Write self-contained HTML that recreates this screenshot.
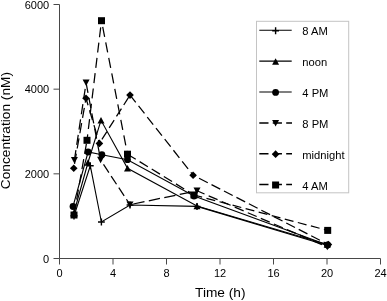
<!DOCTYPE html>
<html><head><meta charset="utf-8"><title>Concentration vs Time</title>
<style>
html,body{margin:0;padding:0;background:#fff;}
body{width:387px;height:301px;overflow:hidden;}
svg{display:block;}
text{font-family:"Liberation Sans",Arial,sans-serif;fill:#000;}
.t{font-size:11px;}
.l{font-size:11.2px;}
.a{font-size:13.7px;}
</style></head><body>
<svg width="387" height="301" viewBox="0 0 387 301">
<rect width="387" height="301" fill="#fff"/>

<g stroke="#484848" stroke-width="1" fill="none">
<path d="M59.5 4.5V258.5H380.5"/>
<path d="M53.5 258.5H59.5"/>
<path d="M53.5 173.83H59.5"/>
<path d="M53.5 89.17H59.5"/>
<path d="M53.5 4.5H59.5"/>
<path d="M59.5 258.5V264.5"/>
<path d="M113 258.5V264.5"/>
<path d="M166.5 258.5V264.5"/>
<path d="M220 258.5V264.5"/>
<path d="M273.5 258.5V264.5"/>
<path d="M327 258.5V264.5"/>
<path d="M380.5 258.5V264.5"/>
</g>
<text class="t" x="49.2" y="262.6" text-anchor="end">0</text>
<text class="t" x="49.2" y="177.93" text-anchor="end">2000</text>
<text class="t" x="49.2" y="93.27" text-anchor="end">4000</text>
<text class="t" x="49.2" y="8.6" text-anchor="end">6000</text>
<text class="t" x="59.5" y="276.7" text-anchor="middle">0</text>
<text class="t" x="113" y="276.7" text-anchor="middle">4</text>
<text class="t" x="166.5" y="276.7" text-anchor="middle">8</text>
<text class="t" x="220" y="276.7" text-anchor="middle">12</text>
<text class="t" x="273.5" y="276.7" text-anchor="middle">16</text>
<text class="t" x="327" y="276.7" text-anchor="middle">20</text>
<text class="t" x="380.5" y="276.7" text-anchor="middle">24</text>
<text class="a" x="220.3" y="296.6" text-anchor="middle">Time (h)</text>
<text class="a" transform="translate(10.4 130.6) rotate(-90)" text-anchor="middle">Concentration (nM)</text>
<path d="M74 216L90.3 165.8L101.4 222L130 205L197 206.4L327.5 245.5" stroke="#000" stroke-width="1.1" fill="none"/>
<path d="M74 212.5L88 162.5L101 120.3L127.5 168.3L197 206L327.2 244.5" stroke="#000" stroke-width="1.1" fill="none"/>
<path d="M73 206.5L88.1 152L101.9 154.7L127.5 159.7L194 196L327.5 245" stroke="#000" stroke-width="1.1" fill="none"/>
<path d="M74.4 160.2L86.1 82.8" stroke="#000" stroke-width="1.25" fill="none" stroke-dasharray="10.2 5.3" stroke-dashoffset="0"/>
<path d="M86.1 82.8L100.6 160" stroke="#000" stroke-width="1.25" fill="none" stroke-dasharray="10.2 5.3" stroke-dashoffset="0"/>
<path d="M100.6 160L130 204.7" stroke="#000" stroke-width="1.25" fill="none" stroke-dasharray="9.8 4.1" stroke-dashoffset="8.6"/>
<path d="M130 204.7L197 190.8" stroke="#000" stroke-width="1.25" fill="none" stroke-dasharray="11.4 4.4" stroke-dashoffset="12.4"/>
<path d="M197 190.8L327.3 247" stroke="#000" stroke-width="1.25" fill="none" stroke-dasharray="9.7 4.5" stroke-dashoffset="1.5"/>
<path d="M73.75 168.2L86 98.3" stroke="#000" stroke-width="1.25" fill="none" stroke-dasharray="10.2 5.3" stroke-dashoffset="11"/>
<path d="M86 98.3L99.4 143.4" stroke="#000" stroke-width="1.25" fill="none" stroke-dasharray="10.2 5.3" stroke-dashoffset="3"/>
<path d="M99.4 143.4L130 95.1" stroke="#000" stroke-width="1.25" fill="none" stroke-dasharray="9.3 4.3" stroke-dashoffset="8.9"/>
<path d="M130 95.1L193.1 175.2" stroke="#000" stroke-width="1.25" fill="none" stroke-dasharray="9.6 4.5" stroke-dashoffset="0.3"/>
<path d="M193.1 175.2L328.4 244.6" stroke="#000" stroke-width="1.25" fill="none" stroke-dasharray="9.8 4.2" stroke-dashoffset="7.3"/>
<path d="M74 215L87 140.3" stroke="#000" stroke-width="1.25" fill="none" stroke-dasharray="10.2 5.3" stroke-dashoffset="0"/>
<path d="M87 140.3L101.5 20.7" stroke="#000" stroke-width="1.25" fill="none" stroke-dasharray="10.0 5.4" stroke-dashoffset="4.0"/>
<path d="M101.5 20.7L127.5 154.2" stroke="#000" stroke-width="1.25" fill="none" stroke-dasharray="10.1 5.7" stroke-dashoffset="9.5"/>
<path d="M127.5 154.2L194 195" stroke="#000" stroke-width="1.25" fill="none" stroke-dasharray="9.7 4.5" stroke-dashoffset="0"/>
<path d="M194 195L327.7 230.4" stroke="#000" stroke-width="1.25" fill="none" stroke-dasharray="9.0 4.5" stroke-dashoffset="0.6"/>
<path d="M70.6 216H77.4M74 212.5V219.5" stroke="#000" stroke-width="1.4" fill="none"/>
<path d="M86.9 165.8H93.7M90.3 162.3V169.3" stroke="#000" stroke-width="1.4" fill="none"/>
<path d="M98 222H104.8M101.4 218.5V225.5" stroke="#000" stroke-width="1.4" fill="none"/>
<path d="M126.6 205H133.4M130 201.5V208.5" stroke="#000" stroke-width="1.4" fill="none"/>
<path d="M193.6 206.4H200.4M197 202.9V209.9" stroke="#000" stroke-width="1.4" fill="none"/>
<path d="M324.1 245.5H330.9M327.5 242V249" stroke="#000" stroke-width="1.4" fill="none"/>
<path d="M74 209.2L77.5 215.7H70.5Z" fill="#000"/>
<path d="M88 159.2L91.5 165.7H84.5Z" fill="#000"/>
<path d="M101 117L104.5 123.5H97.5Z" fill="#000"/>
<path d="M127.5 165L131 171.5H124Z" fill="#000"/>
<path d="M197 202.7L200.5 209.2H193.5Z" fill="#000"/>
<path d="M327.2 241.2L330.7 247.7H323.7Z" fill="#000"/>
<circle cx="73" cy="206.5" r="3.4" fill="#000"/>
<circle cx="88.1" cy="152" r="3.4" fill="#000"/>
<circle cx="101.9" cy="154.7" r="3.4" fill="#000"/>
<circle cx="127.5" cy="159.7" r="3.4" fill="#000"/>
<circle cx="194" cy="196" r="3.4" fill="#000"/>
<circle cx="327.5" cy="245" r="3.4" fill="#000"/>
<path d="M74.4 163.5L77.9 157H70.9Z" fill="#000"/>
<path d="M86.1 86.1L89.6 79.6H82.6Z" fill="#000"/>
<path d="M100.6 163.3L104.1 156.8H97.1Z" fill="#000"/>
<path d="M130 208L133.5 201.5H126.5Z" fill="#000"/>
<path d="M197 194.1L200.5 187.6H193.5Z" fill="#000"/>
<path d="M327.3 250.3L330.8 243.8H323.8Z" fill="#000"/>
<path d="M73.75 164.4L77.55 168.2L73.75 172L69.95 168.2Z" fill="#000"/>
<path d="M86 94.5L89.8 98.3L86 102.1L82.2 98.3Z" fill="#000"/>
<path d="M99.4 139.6L103.2 143.4L99.4 147.2L95.6 143.4Z" fill="#000"/>
<path d="M130 91.3L133.8 95.1L130 98.9L126.2 95.1Z" fill="#000"/>
<path d="M193.1 171.4L196.9 175.2L193.1 179L189.3 175.2Z" fill="#000"/>
<path d="M328.4 240.8L332.2 244.6L328.4 248.4L324.6 244.6Z" fill="#000"/>
<rect x="70.5" y="211.5" width="7" height="7" fill="#000"/>
<rect x="83.5" y="136.8" width="7" height="7" fill="#000"/>
<rect x="98" y="17.2" width="7" height="7" fill="#000"/>
<rect x="124" y="150.7" width="7" height="7" fill="#000"/>
<rect x="190.5" y="191.5" width="7" height="7" fill="#000"/>
<rect x="324.2" y="226.9" width="7" height="7" fill="#000"/>
<rect x="256.5" y="21.3" width="92.2" height="171.5" fill="#fff" stroke="#c4c4c4" stroke-width="1"/>
<path d="M259.3 30.3H291.7" stroke="#000" stroke-width="1.1" fill="none"/>
<path d="M272.2 30.7H279M275.6 27.2V34.2" stroke="#000" stroke-width="1.4" fill="none"/>
<text class="l" x="302.3" y="34.6">8 AM</text>
<path d="M259.3 61.16H291.7" stroke="#000" stroke-width="1.1" fill="none"/>
<path d="M275.6 58.26L279.1 64.76H272.1Z" fill="#000"/>
<text class="l" x="302.3" y="65.6">noon</text>
<path d="M259.3 92.02H291.7" stroke="#000" stroke-width="1.1" fill="none"/>
<circle cx="275.6" cy="92.42" r="3.4" fill="#000"/>
<text class="l" x="302.3" y="96.6">4 PM</text>
<path d="M259.3 122.88H292" stroke="#000" stroke-width="1.5" fill="none" stroke-dasharray="9.2 4.25"/>
<path d="M275.6 126.58L279.1 120.08H272.1Z" fill="#000"/>
<text class="l" x="302.3" y="127.6">8 PM</text>
<path d="M259.3 153.74H292" stroke="#000" stroke-width="1.5" fill="none" stroke-dasharray="9.2 4.25"/>
<path d="M275.6 150.34L279.4 154.14L275.6 157.94L271.8 154.14Z" fill="#000"/>
<text class="l" x="302.3" y="158.6">midnight</text>
<path d="M259.3 184.6H292" stroke="#000" stroke-width="1.5" fill="none" stroke-dasharray="9.2 4.25"/>
<rect x="272.1" y="181.5" width="7" height="7" fill="#000"/>
<text class="l" x="302.3" y="189.6">4 AM</text>
</svg></body></html>
